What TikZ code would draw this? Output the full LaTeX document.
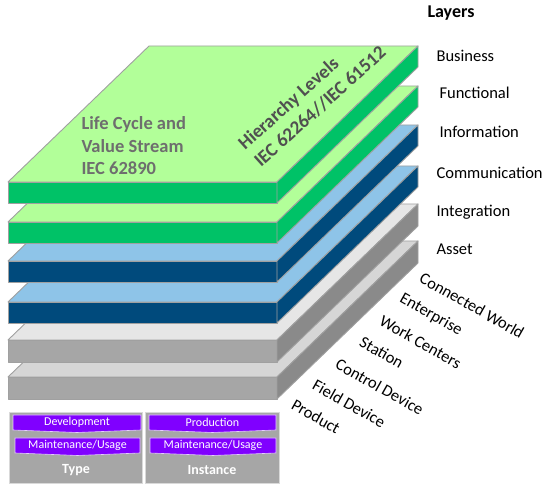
\documentclass[tikz,border=0pt]{standalone}
\usepackage{fontspec}
\setmainfont{Carlito}
\definecolor{greentop}{HTML}{B2FF99}
\definecolor{greenfront}{HTML}{00C267}
\definecolor{bluetop}{HTML}{8EC4E8}
\definecolor{bluefront}{HTML}{004A7C}
\definecolor{greytop}{HTML}{E6E6E6}
\definecolor{greytopb}{HTML}{D6D6D6}
\definecolor{greyfront}{HTML}{A6A6A6}
\definecolor{greyside}{HTML}{8A8A8A}
\definecolor{edgegrey}{HTML}{A0A0A0}
\definecolor{textgrey}{HTML}{6E6E6E}
\definecolor{darktext}{HTML}{505050}
\definecolor{purplebar}{HTML}{8000FF}
\begin{document}
\begin{tikzpicture}[x=1pt,y=-1pt,
  every node/.style={font=\fontsize{16.5}{18}\selectfont},
  face/.style={draw=edgegrey,line width=0.9pt,line join=round},
  layerlabel/.style={anchor=west},
  levellabel/.style={anchor=west,rotate=-29.5},
  slabtitle/.style={darktext,anchor=base west,inner sep=0pt,rotate=42,font=\fontsize{19}{23}\selectfont\bfseries},
  panel/.style={fill=greyfront,draw=white!85!black,line width=0.6pt},
  phase/.style={fill=purplebar,draw=white!80!purplebar,line width=0.6pt},
  phasetext/.style={white,font=\fontsize{12}{13}\selectfont}]
  \useasboundingbox (0,0) rectangle (550,489);
  % slabs, bottom to top
  \draw [face,fill=greytopb] (8,377) -- (277,377) -- (418,241) -- (149,241) -- cycle;
  \draw [face,fill=greyfront] (8,377) rectangle (277,399);
  \draw [face,fill=greyside] (277,377) -- (418,241) -- (418,263) -- (277,399) -- cycle;
  \draw [face,fill=greytop] (8,340) -- (277,340) -- (418,204) -- (149,204) -- cycle;
  \draw [face,fill=greyfront] (8,340) rectangle (277,362);
  \draw [face,fill=greyside] (277,340) -- (418,204) -- (418,226) -- (277,362) -- cycle;
  \draw [face,fill=bluetop] (8,302) -- (277,302) -- (418,166) -- (149,166) -- cycle;
  \draw [face,fill=bluefront] (8,302) rectangle (277,323);
  \draw [face,fill=bluefront] (277,302) -- (418,166) -- (418,187) -- (277,323) -- cycle;
  \draw [face,fill=bluetop] (8,261) -- (277,261) -- (418,125) -- (149,125) -- cycle;
  \draw [face,fill=bluefront] (8,261) rectangle (277,282);
  \draw [face,fill=bluefront] (277,261) -- (418,125) -- (418,146) -- (277,282) -- cycle;
  \draw [face,fill=greentop] (8,222) -- (277,222) -- (418,86) -- (149,86) -- cycle;
  \draw [face,fill=greenfront] (8,222) rectangle (277,243);
  \draw [face,fill=greenfront] (277,222) -- (418,86) -- (418,107) -- (277,243) -- cycle;
  \draw [face,fill=greentop] (8,182) -- (277,182) -- (418,46) -- (149,46) -- cycle;
  \draw [face,fill=greenfront] (8,182) rectangle (277,203);
  \draw [face,fill=greenfront] (277,182) -- (418,46) -- (418,67) -- (277,203) -- cycle;
  % texts on the top slab
  \node (lifecycle) [textgrey,anchor=north west,align=left,font=\fontsize{18.5}{22.5}\selectfont\bfseries] at (78,113)
    {Life Cycle and\\Value Stream\\IEC 62890};
  \node (hierarchy) [slabtitle] at (245,151) {Hierarchy Levels};
  \node (iec) [slabtitle] at (261,168) {IEC 62264//IEC 61512};
  % layers
  \node (layers) [layerlabel,font=\fontsize{18}{20}\selectfont\bfseries] at (424,13) {Layers};
  \node (business) [layerlabel] at (433,56) {Business};
  \node (functional) [layerlabel] at (436,93) {Functional};
  \node (information) [layerlabel] at (436,132) {Information};
  \node (communication) [layerlabel] at (433,173) {Communication};
  \node (integration) [layerlabel] at (433,212) {Integration};
  \node (asset) [layerlabel] at (433,249) {Asset};
  % hierarchy levels
  \node (world) [levellabel] at (418,275) {Connected World};
  \node (enterprise) [levellabel] at (398,296) {Enterprise};
  \node (workcenters) [levellabel] at (378,318) {Work Centers};
  \node (station) [levellabel] at (358,339) {Station};
  \node (controldevice) [levellabel] at (334,361) {Control Device};
  \node (fielddevice) [levellabel] at (311,382) {Field Device};
  \node (product) [levellabel] at (290,402) {Product};
  % life cycle panels
  \draw [panel] (9,412) rectangle (142,483);
  \draw [panel] (145,412) rectangle (279,483);
  \draw [phase] (13,415) -- (141,415) -- (141,430) -- (77,432.5) -- (13,430) -- cycle;
  \draw [phase] (15,438) -- (140,438) -- (140,453) -- (77.5,455.5) -- (15,453) -- cycle;
  \draw [phase] (149,415) -- (276,415) -- (276,430) -- (212.5,432.5) -- (149,430) -- cycle;
  \draw [phase] (150,438) -- (276,438) -- (276,453) -- (213,455.5) -- (150,453) -- cycle;
  \node (development) [phasetext] at (77,422.5) {Development};
  \node (maintype) [phasetext] at (77.5,445.5) {Maintenance/Usage};
  \node (production) [phasetext] at (212.5,422.5) {Production};
  \node (maininst) [phasetext] at (213,445.5) {Maintenance/Usage};
  \node (type) [white,font=\fontsize{14}{15}\selectfont\bfseries] at (76,470) {Type};
  \node (instance) [white,font=\fontsize{14}{15}\selectfont\bfseries] at (212,470) {Instance};
\end{tikzpicture}
\end{document}
